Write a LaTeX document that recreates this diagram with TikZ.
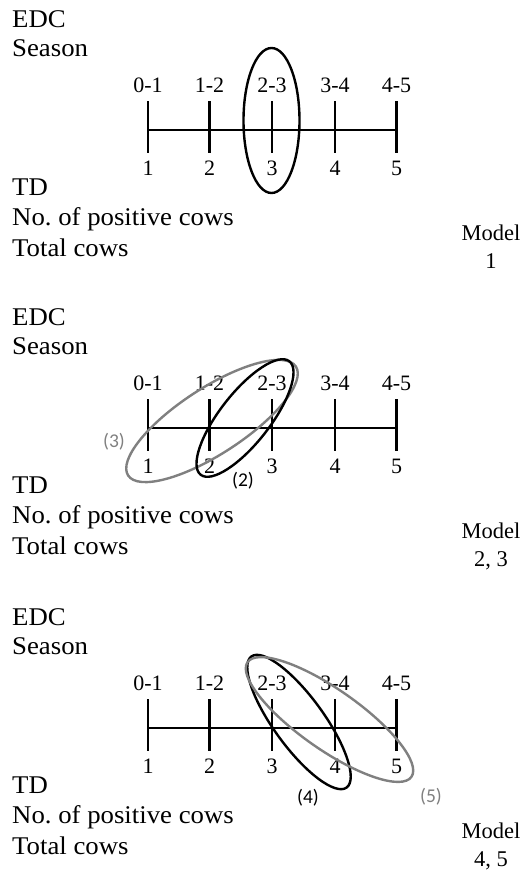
\documentclass[tikz,border=0pt]{standalone}
\usepackage{fontspec}
\setmainfont{Liberation Serif}
\newfontfamily\widefont[FakeStretch=1.05]{Liberation Serif}
\newfontfamily\annfont{Carlito}
\newcommand\drawpanel[3]{%
\begin{scope}[shift={(0,#1)}]
\node[lbl] (edc#2) at (12,27) {EDC};
\node[lbl] (sea#2) at (12,56) {Season};
\node[lbl] (td#2) at (12,195) {TD};
\node[lbl] (pos#2) at (12,225) {No.\ of positive cows};
\node[lbl] (tot#2) at (12,256) {Total cows};
\node[mlbl] (mod#2) at (491,240) {Model};
\node[mlbl] (mnum#2) at (491,268) {#3};
\coordinate (as#2) at (148,130);
\coordinate (ae#2) at (396.5,130);
\draw[axisline] (as#2) -- (ae#2);
\foreach \i/\x/\t in {1/148/0-1, 2/209.5/1-2, 3/272/2-3, 4/335/3-4, 5/396.5/4-5} {
  \coordinate (tt#2\i) at (\x,101);
  \coordinate (tb#2\i) at (\x,153);
  \draw[axisline] (tt#2\i) -- (tb#2\i);
  \node[tlbl] (up#2\i) at (\x,92) {\t};
  \node[tlbl] (dn#2\i) at (\x,175) {\i};
}
\end{scope}}
\begin{document}
\begin{tikzpicture}[x=1pt,y=-1pt,
  lbl/.style={anchor=base west, inner sep=0pt, font=\widefont\fontsize{25.5}{30}\selectfont},
  tlbl/.style={anchor=base, inner sep=0pt, font=\fontsize{22}{24}\selectfont},
  mlbl/.style={anchor=base, inner sep=0pt, font=\fontsize{22.5}{26}\selectfont},
  axisline/.style={line width=2.8pt},
  blk/.style={line width=2.4pt, black},
  gry/.style={line width=2.4pt, gray},
  ann/.style={anchor=center, inner sep=0pt, font=\annfont\fontsize{19.5}{22}\selectfont},
]
\useasboundingbox (0,0) rectangle (524,873);
\fill[white] (0,0) rectangle (524,873);
\drawpanel{0}{1}{1}
\drawpanel{298}{2}{2, 3}
\drawpanel{598}{3}{4, 5}
% panel 1
\draw[blk] (271.5,120.5) ellipse [x radius=28, y radius=72.5];
% panel 2
\draw[gry, shift={(212,421)}, rotate=33] (0,0) ellipse [x radius=100, y radius=33];
\draw[blk, shift={(245,418)}, rotate=52] (0,0) ellipse [x radius=72, y radius=25];
\node[ann, text=gray] (n3) at (114,442) {(3)};
\node[ann] (n2) at (243,481) {(2)};
% panel 3
\draw[blk, shift={(299,722)}, rotate=-54] (0,0) ellipse [x radius=81, y radius=25];
\draw[gry, shift={(329.5,719.5)}, rotate=-35] (0,0) ellipse [x radius=100, y radius=30];
\node[ann] (n4) at (308,798) {(4)};
\node[ann, text=gray] (n5) at (431,797) {(5)};
\end{tikzpicture}
\end{document}
